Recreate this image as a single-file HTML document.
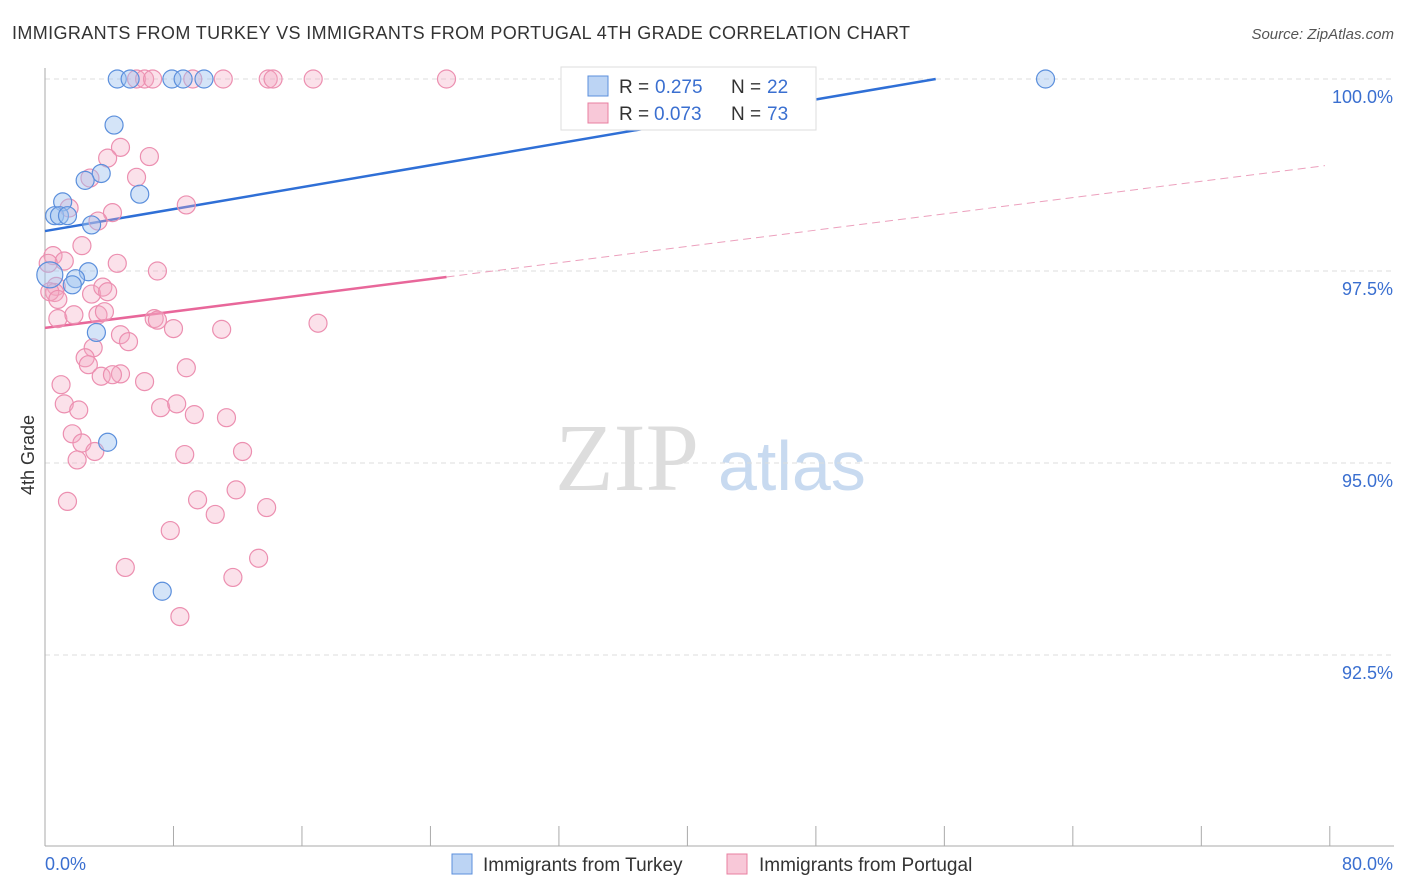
<!DOCTYPE html>
<html><head><meta charset="utf-8"><style>
body{margin:0;background:#fff;font-family:"Liberation Sans",sans-serif}
svg{display:block}
</style></head><body>
<svg id="c" width="1406" height="892">
<text x="12" y="39" font-size="18" fill="#333" textLength="898">IMMIGRANTS FROM TURKEY VS IMMIGRANTS FROM PORTUGAL 4TH GRADE CORRELATION CHART</text>
<text x="1394" y="39" font-size="15" fill="#555" font-style="italic" text-anchor="end">Source: ZipAtlas.com</text>
<text x="34" y="455" font-size="18" fill="#333" transform="rotate(-90 34 455)" text-anchor="middle">4th Grade</text>
<g><text x="555" y="490" font-size="96" font-family="Liberation Serif" fill="#ddd">ZIP</text><text x="718" y="490" font-size="70" fill="#c8daf0">atlas</text></g>
<g id="grid"></g><g id="lines"></g><g id="pts"></g>
<g>
<rect x="561" y="67" width="255" height="63" fill="#fff" stroke="#ddd"/>
<rect x="588" y="76" width="20" height="20" fill="#bcd4f4" stroke="#5b8fdc"/>
<rect x="588" y="103" width="20" height="20" fill="#f8c8d8" stroke="#e87fa0"/>
<text y="93" font-size="19" fill="#333"><tspan x="619">R =</tspan><tspan x="655" fill="#3a6fd0">0.275</tspan><tspan x="731">N =</tspan><tspan x="767" fill="#3a6fd0">22</tspan></text>
<text y="120" font-size="19" fill="#333"><tspan x="619">R =</tspan><tspan x="654" fill="#3a6fd0">0.073</tspan><tspan x="731">N =</tspan><tspan x="767" fill="#3a6fd0">73</tspan></text>
</g>
<g>
<rect x="452" y="854" width="20" height="20" fill="#bcd4f4" stroke="#5b8fdc"/>
<text x="483" y="871" font-size="19" fill="#333">Immigrants from Turkey</text>
<rect x="727" y="854" width="20" height="20" fill="#f8c8d8" stroke="#e87fa0"/>
<text x="759" y="871" font-size="19" fill="#333">Immigrants from Portugal</text>
</g>
<text x="45" y="870" font-size="18" fill="#3a6fd0">0.0%</text>
<text x="1393" y="870" font-size="18" fill="#3a6fd0" text-anchor="end">80.0%</text>
</svg>
<script>
const NS="http://www.w3.org/2000/svg";
const yTicks=[100,97.5,95,92.5];
const yTickLabels=["100.0%","97.5%","95.0%","92.5%"];
const xTicks=[0,8,16,24,32,40,48,56,64,72,80];
const turkeyX=[4.5,5.3,7.9,8.6,9.9,62.3,4.3,3.5,2.5,5.9,1.1,0.6,0.9,1.4,2.9,2.7,1.9,1.7,3.2,3.9,7.3,0.3];
const turkeyY=[100,100,100,100,100,100,99.4,98.77,98.68,98.5,98.4,98.22,98.22,98.22,98.1,97.49,97.4,97.32,96.7,95.27,93.33,97.45];
const portugalX=[5.7,6.2,6.7,9.2,11.1,13.9,14.2,16.7,25.0,4.7,3.9,6.5,2.8,5.7,8.8,4.2,1.5,3.3,0.5,2.3,1.2,4.5,7.0,0.2,0.7,0.6,0.3,0.8,2.9,3.6,3.9,0.8,1.8,3.3,3.7,6.8,7.0,8.0,11.0,17.0,4.7,5.2,3.0,2.5,2.7,4.7,3.5,4.2,6.2,8.8,1.0,1.2,2.1,7.2,8.2,9.3,11.3,1.7,2.3,3.1,2.0,12.3,8.7,1.4,9.5,11.9,10.6,13.8,7.8,5.0,13.3,11.7,8.4];
const portugalY=[100,100,100,100,100,100,100,100,100,99.11,98.97,98.99,98.71,98.72,98.36,98.26,98.32,98.15,97.7,97.83,97.63,97.6,97.5,97.6,97.3,97.22,97.23,97.13,97.2,97.29,97.23,96.88,96.93,96.93,96.97,96.88,96.86,96.75,96.74,96.82,96.67,96.58,96.5,96.37,96.28,96.16,96.13,96.15,96.06,96.24,96.02,95.77,95.69,95.72,95.77,95.63,95.59,95.38,95.26,95.15,95.04,95.15,95.11,94.5,94.52,94.65,94.33,94.42,94.12,93.64,93.76,93.51,93.0];
const trendIntercept=[98.02,96.76];
const trendSlope=[0.0357,0.0265];
const X=v=>45+v*16.06, Y=v=>79+(100-v)*76.8;
function el(t,a,p){const e=document.createElementNS(NS,t);for(const k in a)e.setAttribute(k,a[k]);document.getElementById(p).appendChild(e);return e;}
yTicks.forEach((t,i)=>{
 const l=el('line',{x1:45,x2:1394,y1:Y(t),y2:Y(t),stroke:'#ddd','stroke-dasharray':'5,4'},'grid');
 
 
 const tx=el('text',{x:1393,y:Y(t)+24,'font-size':18,fill:'#3a6fd0','text-anchor':'end'},'grid');
 tx.textContent=yTickLabels[i];
 
 
});
const ax=el('line',{x1:45,x2:45,y1:68,y2:846,stroke:'#aaa'},'grid');


const bx=el('line',{x1:45,x2:1394,y1:846,y2:846,stroke:'#aaa'},'grid');


xTicks.forEach(t=>{
 const l=el('line',{x1:X(t),x2:X(t),y1:826,y2:846,stroke:'#aaa'},'grid');
 
 
});
let xe=(100-trendIntercept[0])/trendSlope[0];
const tl=el('line',{x1:X(0),y1:Y(trendIntercept[0]),x2:X(xe),y2:Y(100),stroke:'#2f6fd6','stroke-width':2.5},'lines');


const pl=el('line',{x1:X(0),y1:Y(trendIntercept[1]),x2:X(25),y2:Y(trendIntercept[1]+25*trendSlope[1]),stroke:'#e8679a','stroke-width':2.5},'lines');


const pd=el('line',{x1:X(25),y1:Y(trendIntercept[1]+25*trendSlope[1]),x2:X(79.7),y2:Y(trendIntercept[1]+79.7*trendSlope[1]),stroke:'#eca0bd','stroke-width':1,'stroke-dasharray':'8,5'},'lines');


portugalX.forEach((x,i)=>{
 const c=el('circle',{cx:X(x),cy:Y(portugalY[i]),r:9,fill:'rgba(244,170,195,0.35)',stroke:'#ec8fb0','stroke-width':1.2},'pts');
 
 
});
turkeyX.forEach((x,i)=>{
 const c=el('circle',{cx:X(x),cy:Y(turkeyY[i]),r:i==21?13:9,fill:'rgba(160,195,240,0.45)',stroke:'#5b8fdc','stroke-width':1.2},'pts');
 
 
});
</script>
</body></html>
